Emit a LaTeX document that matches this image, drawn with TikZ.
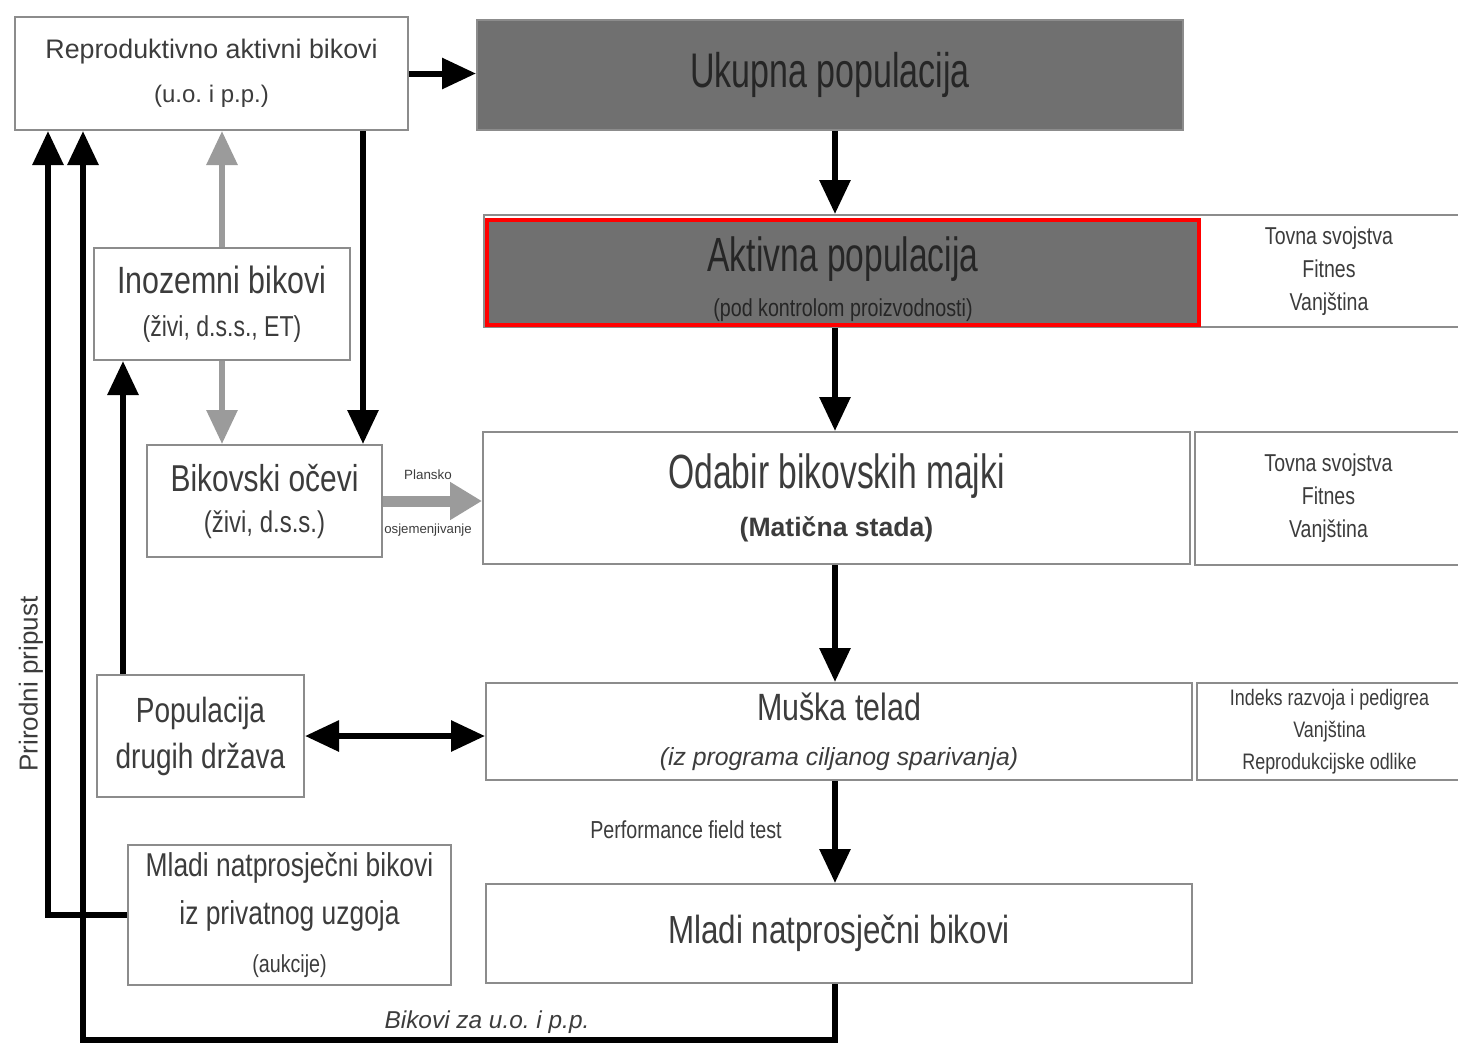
\documentclass[tikz,border=0pt]{standalone}
\usepackage{fontspec}
\setmainfont{Liberation Sans}
\newfontfamily\narrowfont{Liberation Sans}[FakeStretch=0.8]
\newfontfamily\titlefont{Liberation Sans}[FakeStretch=0.7]
\usepackage{xcolor}
\usetikzlibrary{arrows.meta}
\frenchspacing
\definecolor{txtgray}{RGB}{60,60,60}
\definecolor{boxline}{RGB}{140,140,140}
\definecolor{darkfill}{RGB}{112,112,112}
\definecolor{lightarr}{RGB}{155,155,155}
\newcommand{\fsz}[2]{\fontsize{#1}{#2}\selectfont}
\tikzset{
	box/.style={draw=boxline, line width=1pt, fill=white, text=txtgray, align=center, inner sep=0pt},
	darkbox/.style={box, fill=darkfill, text=black!85},
	arr/.style={line width=3pt, -{Triangle[length=17pt,width=15pt]}},
	dblarr/.style={line width=3pt, {Triangle[length=17pt,width=15pt]}-{Triangle[length=17pt,width=15pt]}},
	garr/.style={arr, draw=lightarr, fill=lightarr},
	lbl/.style={text=txtgray, inner sep=0pt},
}

\begin{document}
\begin{tikzpicture}[x=0.5pt,y=-0.5pt]
		\useasboundingbox (0,0) rectangle (1458,1046);
		% Columns of the vertical connectors
		\coordinate (spine) at (835,0);
		\coordinate (rb) at (363,0);
		\coordinate (pp) at (48,0);
		\coordinate (pop) at (123,0);
		\coordinate (bot) at (83,1040);
		% Boxes of the main column
		\node[darkbox, minimum width=353pt, minimum height=55pt, font=\titlefont\fsz{24.3}{28}] (ukupna) at (830,75) {Ukupna populacija};
		\node[box, minimum width=493pt, minimum height=56pt] (aktframe) at (977,271) {};
		\node[darkbox, draw=red, line width=2pt, minimum width=356pt, minimum height=52.5pt] (aktiv) at (843,272.5) {};
		\node[lbl, text=black!85, align=center, font=\titlefont\fsz{24}{22.5}] (aktivtxt) at ([yshift=-3.5pt]aktiv.center) {Aktivna populacija\\ \narrowfont\fsz{12.3}{22.5}(pod kontrolom proizvodnosti)};
		\node[box, draw=none, fill=none, minimum width=131pt, minimum height=56pt, font=\narrowfont\fsz{12.2}{16.5}] (akttov) at (1329,271) {Tovna svojstva\\Fitnes\\Vanjština};
		\node[box, minimum width=353.5pt, minimum height=66pt, font=\titlefont\fsz{24}{24}] (odabir) at (836.5,498) {Odabir bikovskih majki\\ \normalfont\bfseries\fsz{13.3}{24}(Matična stada)};
		\node[box, minimum width=133.5pt, minimum height=66.5pt, font=\narrowfont\fsz{12.2}{16.5}] (odtov) at (1328.5,498.5) {Tovna svojstva\\Fitnes\\Vanjština};
		\node[box, minimum width=353pt, minimum height=48.5pt, font=\narrowfont\fsz{19}{22.5}] (muska) at (839,731.5) {Muška telad\\ \normalfont\itshape\fsz{12.4}{22.5}(iz programa ciljanog sparivanja)};
		\node[box, minimum width=132.5pt, minimum height=48.5pt, font=\narrowfont\fsz{11.2}{16}] (muskind) at (1329.5,731.5) {Indeks razvoja i pedigrea\\Vanjština\\Reprodukcijske odlike};
		\node[box, minimum width=353pt, minimum height=49.5pt, font=\narrowfont\fsz{19.6}{22}] (mladi) at (839,933.5) {Mladi natprosječni bikovi};
		% Boxes of the left column
		\node[box, minimum width=196.5pt, minimum height=56.5pt, font=\fsz{13.4}{22}] (repro) at (211.5,73.5) {Reproduktivno aktivni bikovi\\ \fsz{12}{22}(u.o. i p.p.)};
		\node[box, minimum width=128pt, minimum height=56pt, font=\narrowfont\fsz{19}{21.5}] (inozemni) at (222,304) {Inozemni bikovi\\ \fsz{14.4}{21.5}(živi, d.s.s., ET)};
		\node[box, minimum width=117.5pt, minimum height=56pt, font=\narrowfont\fsz{18.7}{20.5}] (bikovski) at (264.5,501) {Bikovski očevi\\ \fsz{15}{20.5}(živi, d.s.s.)};
		\node[box, minimum width=103.5pt, minimum height=61pt, font=\narrowfont\fsz{17.5}{23}] (populacija) at (200.5,736) {Populacija\\drugih država};
		\node[box, minimum width=161.5pt, minimum height=70pt, font=\narrowfont\fsz{16.5}{24}] (mladipriv) at (289.5,915) {Mladi natprosječni bikovi\\iz privatnog uzgoja\\ \fsz{12.3}{19}(aukcije)};
		% Black connectors
		\draw[arr] (repro.east) -- (repro.east -| ukupna.west);
		\draw[arr] (ukupna.south -| spine) -- (aktframe.north -| spine);
		\draw[arr] (aktframe.south -| spine) -- (odabir.north -| spine);
		\draw[arr] (odabir.south -| spine) -- (muska.north -| spine);
		\draw[arr] (muska.south -| spine) -- (mladi.north -| spine);
		\draw[arr] (repro.south -| rb) -- (bikovski.north -| rb);
		\draw[arr] (populacija.north -| pop) -- (inozemni.south -| pop);
		\draw[dblarr] (populacija.east) -- (populacija.east -| muska.west);
		\draw[arr] (mladipriv.west) -| (pp |- repro.south);
		\draw[arr] (mladi.south -| spine) |- (bot) -- (bot |- repro.south);
		% Grey connectors
		\draw[garr] (inozemni.north) -- (inozemni.north |- repro.south);
		\draw[garr] (inozemni.south) -- (inozemni.south |- bikovski.north);
		\draw[draw=lightarr, line width=5.5pt, -{Triangle[length=16pt,width=18pt]}] (bikovski.east) -- (bikovski.east -| odabir.west);
		% Labels
		\node[lbl, font=\fsz{6.7}{8}] (plan) at (428,475) {Plansko};
		\node[lbl, font=\fsz{6.6}{8}] (osj) at (428,530) {osjemenjivanje};
		\node[lbl, font=\narrowfont\fsz{12.3}{14}] (pft) at (686,830) {Performance field test};
		\node[lbl, font=\itshape\fsz{12.2}{14}] (bik) at (487,1022) {Bikovi za u.o. i p.p.};
		\node[lbl, font=\fsz{13}{15}, rotate=90] (prir) at (31,684) {Prirodni pripust};
\end{tikzpicture}
\end{document}
